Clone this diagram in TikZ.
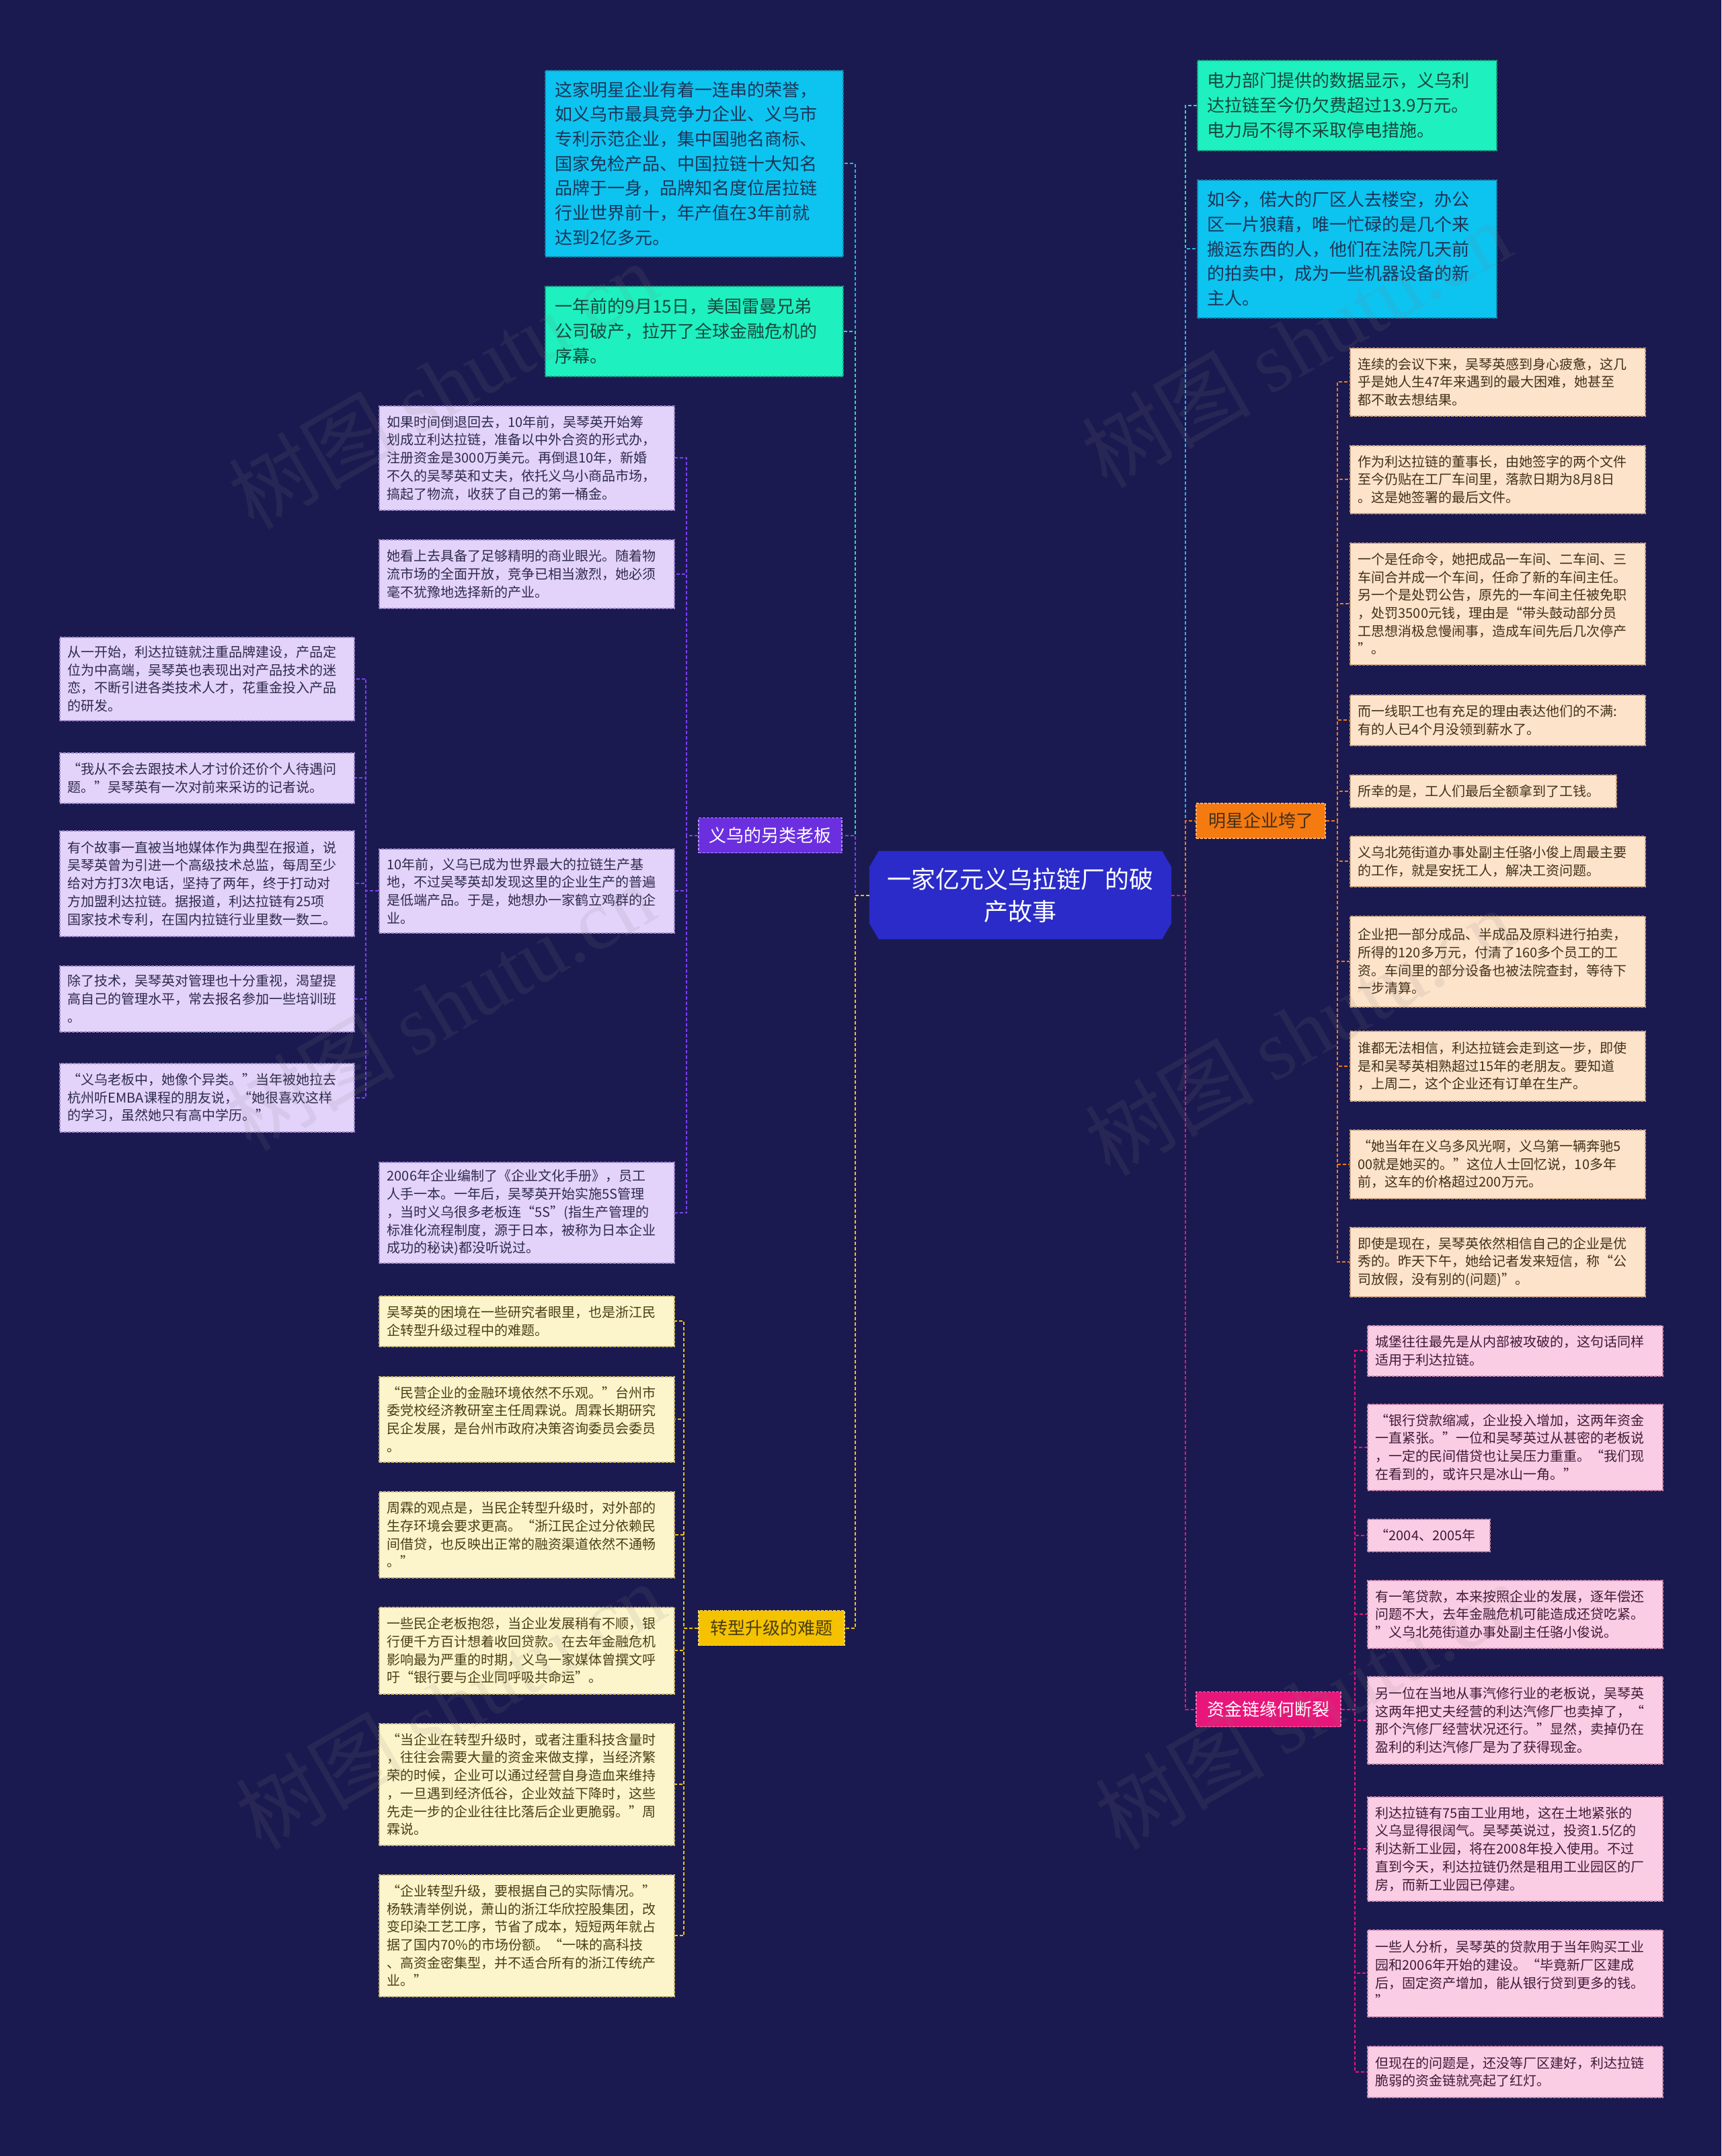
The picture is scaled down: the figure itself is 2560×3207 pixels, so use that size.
\documentclass[tikz,border=0pt]{standalone}
\usepackage{fontspec}
\setmainfont{Noto Sans CJK SC}
\newfontfamily\wmlatin{Liberation Serif}
\usetikzlibrary{positioning,backgrounds}
\definecolor{bgNavy}{HTML}{1B1A50}
\definecolor{rootBlue}{HTML}{2A2BC8}
\definecolor{cyanFill}{HTML}{0DC3F0}
\definecolor{cyanText}{HTML}{1D3557}
\definecolor{cyanLine}{HTML}{1DB8E8}
\definecolor{greenFill}{HTML}{1FF0C0}
\definecolor{greenText}{HTML}{17483E}
\definecolor{greenLine}{HTML}{1FE0B4}
\definecolor{vioMain}{HTML}{6B2FE0}
\definecolor{vioLine}{HTML}{7B3FF2}
\definecolor{vioFill}{HTML}{E3D3FA}
\definecolor{vioEdge}{HTML}{9C86C8}
\definecolor{vioText}{HTML}{2E2A4A}
\definecolor{ylwMain}{HTML}{F5C200}
\definecolor{ylwFill}{HTML}{FCF5CC}
\definecolor{ylwEdge}{HTML}{C9B870}
\definecolor{ylwText}{HTML}{4A3E12}
\definecolor{orgMain}{HTML}{F57A10}
\definecolor{orgFill}{HTML}{FCE3CA}
\definecolor{orgEdge}{HTML}{C9A07A}
\definecolor{orgText}{HTML}{42301A}
\definecolor{pnkMain}{HTML}{E8157A}
\definecolor{pnkFill}{HTML}{FBCDE4}
\definecolor{pnkEdge}{HTML}{C98BAE}
\definecolor{pnkText}{HTML}{3E1A36}

\tikzset{
  rootnode/.style={align=center, text=white, minimum width=449, minimum height=131,
    font=\fontsize{36}{48}\selectfont},
  topnode/.style={anchor=north west, align=left, inner xsep=15, inner ysep=0,
    text width=413, dash pattern=on 4pt off 2pt, line width=1.5pt,
    font=\fontsize{26}{36.7}\selectfont},
  branchnode/.style={minimum height=52, inner sep=0, dash pattern=on 4pt off 2pt,
    line width=1.5pt, font=\fontsize{26}{30}\selectfont},
  leafnode/.style={anchor=north west, align=left, inner xsep=12, inner ysep=0,
    text width=415, dash pattern=on 4pt off 2pt, line width=1.5pt,
    font=\fontsize{20}{26.7}\selectfont},
  leafV/.style={leafnode, fill=vioFill, draw=vioEdge, text=vioText},
  leafY/.style={leafnode, fill=ylwFill, draw=ylwEdge, text=ylwText},
  leafO/.style={leafnode, fill=orgFill, draw=orgEdge, text=orgText},
  leafP/.style={leafnode, fill=pnkFill, draw=pnkEdge, text=pnkText},
  link/.style={line width=2pt, dash pattern=on 5pt off 3pt},
  watermark/.style={text=gray, opacity=0.12, rotate=30, font=\fontsize{126}{130}\selectfont}
}

\begin{document}
\begin{tikzpicture}[x=1pt, y=-1pt]
  \useasboundingbox (0,0) rectangle (2560,3207);
  \begin{scope}[on background layer]
    \fill[bgNavy] (0,0) rectangle (2560,3207);
  \end{scope}

  % centre topic
  \node[rootnode] (root) at (1517.5,1331.5) {一家亿元义乌拉链厂的破\\产故事};
  \begin{scope}[on background layer]
    \fill[rootBlue] ([xshift=14]root.north west) -- ([xshift=-14]root.north east)
      -- ([yshift=-24]root.north east) -- ([yshift=24]root.south east)
      -- ([xshift=-14]root.south east) -- ([xshift=14]root.south west)
      -- ([yshift=24]root.south west) -- ([yshift=-24]root.north west) -- cycle;
  \end{scope}

  % direct children of the centre
  \node[topnode, fill=cyanFill, draw=cyanLine!70!black, text=cyanText, minimum height=277] (tl1) at (810,104)
    {这家明星企业有着一连串的荣誉，\\如义乌市最具竞争力企业、义乌市\\专利示范企业，集中国驰名商标、\\国家免检产品、中国拉链十大知名\\品牌于一身，品牌知名度位居拉链\\行业世界前十，年产值在3年前就\\达到2亿多元。};
  \node[topnode, fill=greenFill, draw=greenLine!70!black, text=greenText, minimum height=134] (tl2) at (810,425)
    {一年前的9月15日，美国雷曼兄弟\\公司破产，拉开了全球金融危机的\\序幕。};
  \node[topnode, fill=greenFill, draw=greenLine!70!black, text=greenText, minimum height=134, text width=415] (tr1) at (1780,89)
    {电力部门提供的数据显示，义乌利\\达拉链至今仍欠费超过13.9万元。\\电力局不得不采取停电措施。};
  \node[topnode, fill=cyanFill, draw=cyanLine!70!black, text=cyanText, minimum height=205, text width=415] (tr2) at (1780,267)
    {如今，偌大的厂区人去楼空，办公\\区一片狼藉，唯一忙碌的是几个来\\搬运东西的人，他们在法院几天前\\的拍卖中，成为一些机器设备的新\\主人。};

  % main branches
  \node[branchnode, fill=vioMain, draw=vioLine!60!white, text=white, minimum width=213] (bV) at (1145.5,1242.5) {义乌的另类老板};
  \node[branchnode, fill=ylwMain, draw=ylwMain!60!white, text=ylwText, minimum width=217] (bY) at (1147.5,2421.5) {转型升级的难题};
  \node[branchnode, fill=orgMain, draw=orgMain!60!white, text=orgText, minimum width=192] (bO) at (1875,1221) {明星企业垮了};
  \node[branchnode, fill=pnkMain, draw=pnkMain!60!white, text=white, minimum width=215] (bP) at (1886.5,2542.5) {资金链缘何断裂};

  % 义乌的另类老板
  \node[leafV, minimum height=155] (v1) at (563,603)
    {如果时间倒退回去，10年前，吴琴英开始筹\\划成立利达拉链，准备以中外合资的形式办，\\注册资金是3000万美元。再倒退10年，新婚\\不久的吴琴英和丈夫，依托义乌小商品市场，\\搞起了物流，收获了自己的第一桶金。};
  \node[leafV, minimum height=102] (v2) at (563,802)
    {她看上去具备了足够精明的商业眼光。随着物\\流市场的全面开放，竞争已相当激烈，她必须\\毫不犹豫地选择新的产业。};
  \node[leafV, minimum height=125] (v3) at (563,1262)
    {10年前，义乌已成为世界最大的拉链生产基\\地，不过吴琴英却发现这里的企业生产的普遍\\是低端产品。于是，她想办一家鹤立鸡群的企\\业。};
  \node[leafV, minimum height=150] (v4) at (563,1728)
    {2006年企业编制了《企业文化手册》，员工\\人手一本。一年后，吴琴英开始实施5S管理\\，当时义乌很多老板连“5S”(指生产管理的\\标准化流程制度，源于日本，被称为日本企业\\成功的秘诀)都没听说过。};

  \node[leafV, text width=414, minimum height=124] (w1) at (88,947)
    {从一开始，利达拉链就注重品牌建设，产品定\\位为中高端，吴琴英也表现出对产品技术的迷\\恋，不断引进各类技术人才，花重金投入产品\\的研发。};
  \node[leafV, text width=414, minimum height=75] (w2) at (88,1119)
    {“我从不会去跟技术人才讨价还价个人待遇问\\题。”吴琴英有一次对前来采访的记者说。};
  \node[leafV, text width=414, minimum height=157] (w3) at (88,1235)
    {有个故事一直被当地媒体作为典型在报道，说\\吴琴英曾为引进一个高级技术总监，每周至少\\给对方打3次电话，坚持了两年，终于打动对\\方加盟利达拉链。据报道，利达拉链有25项\\国家技术专利，在国内拉链行业里数一数二。};
  \node[leafV, text width=414, minimum height=98] (w4) at (88,1436)
    {除了技术，吴琴英对管理也十分重视，渴望提\\高自己的管理水平，常去报名参加一些培训班\\。};
  \node[leafV, text width=414, minimum height=102] (w5) at (88,1581)
    {“义乌老板中，她像个异类。”当年被她拉去\\杭州听EMBA课程的朋友说，“她很喜欢这样\\的学习，虽然她只有高中学历。”};

  % 转型升级的难题
  \node[leafY, minimum height=75] (y1) at (563,1927)
    {吴琴英的困境在一些研究者眼里，也是浙江民\\企转型升级过程中的难题。};
  \node[leafY, minimum height=127] (y2) at (563,2047)
    {“民营企业的金融环境依然不乐观。”台州市\\委党校经济教研室主任周霖说。周霖长期研究\\民企发展，是台州市政府决策咨询委员会委员\\。};
  \node[leafY, minimum height=128] (y3) at (563,2218)
    {周霖的观点是，当民企转型升级时，对外部的\\生存环境会要求更高。“浙江民企过分依赖民\\间借贷，也反映出正常的融资渠道依然不通畅\\。”};
  \node[leafY, minimum height=129] (y4) at (563,2390)
    {一些民企老板抱怨，当企业发展稍有不顺，银\\行便千方百计想着收回贷款。在去年金融危机\\影响最为严重的时期，义乌一家媒体曾撰文呼\\吁“银行要与企业同呼吸共命运”。};
  \node[leafY, minimum height=181] (y5) at (563,2563)
    {“当企业在转型升级时，或者注重科技含量时\\，往往会需要大量的资金来做支撑，当经济繁\\荣的时候，企业可以通过经营自身造血来维持\\，一旦遇到经济低谷，企业效益下降时，这些\\先走一步的企业往往比落后企业更脆弱。”周\\霖说。};
  \node[leafY, minimum height=181] (y6) at (563,2788)
    {“企业转型升级，要根据自己的实际情况。”\\杨轶清举例说，萧山的浙江华欣控股集团，改\\变印染工艺工序，节省了成本，短短两年就占\\据了国内70\%的市场份额。“一味的高科技\\、高资金密集型，并不适合所有的浙江传统产\\业。”};

  % 明星企业垮了
  \node[leafO, minimum height=101] (o1) at (2007,517)
    {连续的会议下来，吴琴英感到身心疲惫，这几\\乎是她人生47年来遇到的最大困难，她甚至\\都不敢去想结果。};
  \node[leafO, minimum height=101] (o2) at (2007,662)
    {作为利达拉链的董事长，由她签字的两个文件\\至今仍贴在工厂车间里，落款日期为8月8日\\。这是她签署的最后文件。};
  \node[leafO, minimum height=181] (o3) at (2007,807)
    {一个是任命令，她把成品一车间、二车间、三\\车间合并成一个车间，任命了新的车间主任。\\另一个是处罚公告，原先的一车间主任被免职\\，处罚3500元钱，理由是“带头鼓动部分员\\工思想消极怠慢闹事，造成车间先后几次停产\\”。};
  \node[leafO, minimum height=75] (o4) at (2007,1033)
    {而一线职工也有充足的理由表达他们的不满:\\有的人已4个月没领到薪水了。};
  \node[leafO, text width=372, minimum height=48] (o5) at (2007,1152)
    {所幸的是，工人们最后全额拿到了工钱。};
  \node[leafO, minimum height=75] (o6) at (2007,1243)
    {义乌北苑街道办事处副主任骆小俊上周最主要\\的工作，就是安抚工人，解决工资问题。};
  \node[leafO, minimum height=135] (o7) at (2007,1362)
    {企业把一部分成品、半成品及原料进行拍卖，\\所得的120多万元，付清了160多个员工的工\\资。车间里的部分设备也被法院查封，等待下\\一步清算。};
  \node[leafO, minimum height=104] (o8) at (2007,1533)
    {谁都无法相信，利达拉链会走到这一步，即使\\是和吴琴英相熟超过15年的老朋友。要知道\\，上周二，这个企业还有订单在生产。};
  \node[leafO, minimum height=102] (o9) at (2007,1680)
    {“她当年在义乌多风光啊，义乌第一辆奔驰5\\00就是她买的。”这位人士回忆说，10多年\\前，这车的价格超过200万元。};
  \node[leafO, minimum height=103] (o10) at (2007,1825)
    {即使是现在，吴琴英依然相信自己的企业是优\\秀的。昨天下午，她给记者发来短信，称“公\\司放假，没有别的(问题)”。};

  % 资金链缘何断裂
  \node[leafP, minimum height=75] (p1) at (2033,1971)
    {城堡往往最先是从内部被攻破的，这句话同样\\适用于利达拉链。};
  \node[leafP, minimum height=128] (p2) at (2033,2088)
    {“银行贷款缩减，企业投入增加，这两年资金\\一直紧张。”一位和吴琴英过从甚密的老板说\\，一定的民间借贷也让吴压力重重。“我们现\\在看到的，或许只是冰山一角。”};
  \node[leafP, text width=158, minimum height=48] (p3) at (2033,2259)
    {“2004、2005年};
  \node[leafP, minimum height=101] (p4) at (2033,2350)
    {有一笔贷款，本来按照企业的发展，逐年偿还\\问题不大，去年金融危机可能造成还贷吃紧。\\”义乌北苑街道办事处副主任骆小俊说。};
  \node[leafP, minimum height=130] (p5) at (2033,2493)
    {另一位在当地从事汽修行业的老板说，吴琴英\\这两年把丈夫经营的利达汽修厂也卖掉了，“\\那个汽修厂经营状况还行。”显然，卖掉仍在\\盈利的利达汽修厂是为了获得现金。};
  \node[leafP, minimum height=155] (p6) at (2033,2672)
    {利达拉链有75亩工业用地，这在土地紧张的\\义乌显得很阔气。吴琴英说过，投资1.5亿的\\利达新工业园，将在2008年投入使用。不过\\直到今天，利达拉链仍然是租用工业园区的厂\\房，而新工业园已停建。};
  \node[leafP, minimum height=129] (p7) at (2033,2870)
    {一些人分析，吴琴英的贷款用于当年购买工业\\园和2006年开始的建设。“毕竟新厂区建成\\后，固定资产增加，能从银行贷到更多的钱。\\”};
  \node[leafP, minimum height=76] (p8) at (2033,3043)
    {但现在的问题是，还没等厂区建好，利达拉链\\脆弱的资金链就亮起了红灯。};

  % connectors from the centre
  \draw[link, cyanLine] (root.west) -- ++(-21,0) |- (tl1.east);
  \draw[link, greenLine] (root.west) -- ++(-21,0) |- (tl2.east);
  \draw[link, vioLine] (root.west) -- ++(-21,0) |- (bV.east);
  \draw[link, ylwMain] (root.west) -- ++(-21,0) |- (bY.east);
  \draw[link, greenLine] (root.east) -- ++(21,0) |- (tr1.west);
  \draw[link, cyanLine] (root.east) -- ++(21,0) |- (tr2.west);
  \draw[link, orgMain] (root.east) -- ++(21,0) |- (bO.west);
  \draw[link, pnkMain] (root.east) -- ++(21,0) |- (bP.west);

  % branch connectors
  \draw[link, vioLine] (bV.west) -- ++(-17,0) |- (v1.east);
  \draw[link, vioLine] (bV.west) -- ++(-17,0) |- (v2.east);
  \draw[link, vioLine] (bV.west) -- ++(-17,0) |- (v3.east);
  \draw[link, vioLine] (bV.west) -- ++(-17,0) |- (v4.east);
  \draw[link, vioLine] (v3.west) -- ++(-19,0) |- (w1.east);
  \draw[link, vioLine] (v3.west) -- ++(-19,0) |- (w2.east);
  \draw[link, vioLine] (v3.west) -- ++(-19,0) |- (w3.east);
  \draw[link, vioLine] (v3.west) -- ++(-19,0) |- (w4.east);
  \draw[link, vioLine] (v3.west) -- ++(-19,0) |- (w5.east);
  \draw[link, ylwMain] (bY.west) -- ++(-21,0) |- (y1.east);
  \draw[link, ylwMain] (bY.west) -- ++(-21,0) |- (y2.east);
  \draw[link, ylwMain] (bY.west) -- ++(-21,0) |- (y3.east);
  \draw[link, ylwMain] (bY.west) -- ++(-21,0) |- (y4.east);
  \draw[link, ylwMain] (bY.west) -- ++(-21,0) |- (y5.east);
  \draw[link, ylwMain] (bY.west) -- ++(-21,0) |- (y6.east);
  \draw[link, orgMain] (bO.east) -- ++(17,0) |- (o1.west);
  \draw[link, orgMain] (bO.east) -- ++(17,0) |- (o2.west);
  \draw[link, orgMain] (bO.east) -- ++(17,0) |- (o3.west);
  \draw[link, orgMain] (bO.east) -- ++(17,0) |- (o4.west);
  \draw[link, orgMain] (bO.east) -- ++(17,0) |- (o5.west);
  \draw[link, orgMain] (bO.east) -- ++(17,0) |- (o6.west);
  \draw[link, orgMain] (bO.east) -- ++(17,0) |- (o7.west);
  \draw[link, orgMain] (bO.east) -- ++(17,0) |- (o8.west);
  \draw[link, orgMain] (bO.east) -- ++(17,0) |- (o9.west);
  \draw[link, orgMain] (bO.east) -- ++(17,0) |- (o10.west);
  \draw[link, pnkMain] (bP.east) -- ++(20,0) |- (p1.west);
  \draw[link, pnkMain] (bP.east) -- ++(20,0) |- (p2.west);
  \draw[link, pnkMain] (bP.east) -- ++(20,0) |- (p3.west);
  \draw[link, pnkMain] (bP.east) -- ++(20,0) |- (p4.west);
  \draw[link, pnkMain] (bP.east) -- ++(20,0) |- (p5.west);
  \draw[link, pnkMain] (bP.east) -- ++(20,0) |- (p6.west);
  \draw[link, pnkMain] (bP.east) -- ++(20,0) |- (p7.west);
  \draw[link, pnkMain] (bP.east) -- ++(20,0) |- (p8.west);

  % watermarks
  \foreach \wx/\wy [count=\i] in {658/572, 1927/511, 654/1497, 1932/1534, 669/2536, 1947/2536}
    \node[watermark] (wm\i) at (\wx,\wy) {树图 {\wmlatin shutu.cn}};
\end{tikzpicture}
\end{document}
